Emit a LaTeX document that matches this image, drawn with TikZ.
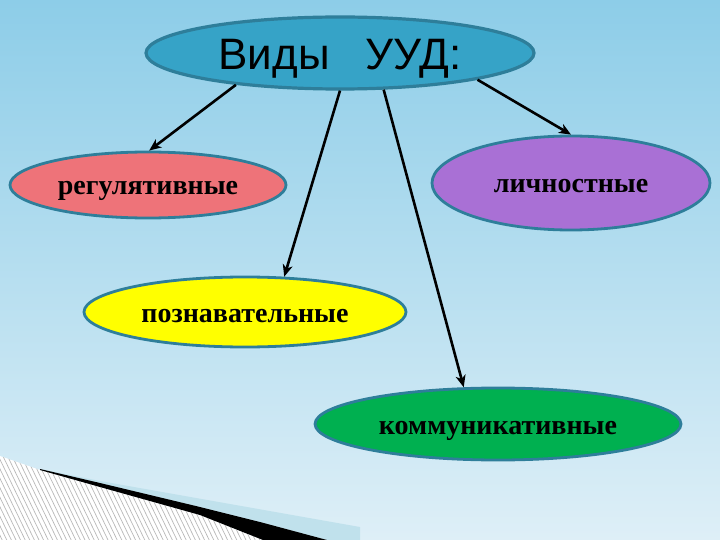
\documentclass[tikz,border=0pt]{standalone}
\usepackage{fontspec}
\setmainfont{Liberation Serif}
\newfontfamily\arialf{Liberation Sans}
\usetikzlibrary{shapes.geometric,arrows.meta}
\definecolor{bgtop}{RGB}{141,205,232}
\definecolor{bgbot}{RGB}{222,239,247}
\definecolor{band}{RGB}{192,225,236}
\definecolor{rim}{RGB}{46,126,154}
\definecolor{topfill}{RGB}{54,163,199}
\definecolor{redfill}{RGB}{238,115,121}
\definecolor{purplefill}{RGB}{169,112,213}
\definecolor{yellowfill}{RGB}{255,255,0}
\definecolor{greenfill}{RGB}{0,176,80}
\tikzset{
  oval/.style={ellipse, draw=rim, line width=2.8pt, inner sep=0pt,
    text height=20pt, text depth=0pt,
    font=\bfseries\fontsize{28}{32}\selectfont},
  arr/.style={draw=black, line width=2.6pt, -{Stealth[length=12pt,width=10pt,inset=3.5pt]}},
  hatch/.style={draw=gray!55, line width=0.7pt}
}
\begin{document}
\begin{tikzpicture}[x=1pt,y=-1pt]
\useasboundingbox (0,0) rectangle (720,540);
\shade[top color=bgtop, bottom color=bgbot] (0,0) rectangle (720,540);
% bottom-left swoosh
\fill[band] (40,469) -- (100,481) -- (360,527) -- (360,540) -- (327,540) -- (260,522)
  -- (200,507) -- (100,483) -- cycle;
\fill[white] (0,456) -- (40,470) -- (100,487) -- (200,515) -- (263,540) -- (0,540) -- cycle;
\begin{scope}
  \clip (0,456) -- (40,470) -- (100,487) -- (200,515) -- (263,540) -- (0,540) -- cycle;
  \foreach \i in {-12,...,62} {
    \draw[hatch] (\i*4.6,450) -- ++(46,95);
  }
\end{scope}
\fill[black] (40,469) -- (100,483) -- (200,507) -- (260,522) -- (327,540) -- (263,540)
  -- (200,515) -- (100,487) -- (40,470) -- cycle;
% nodes
\node[oval, fill=topfill, line width=3.2pt, minimum width=388pt, minimum height=72pt,
  text height=34pt, text depth=0pt,
  font=\arialf\fontsize{44}{50}\selectfont] (top) at (340,53) {Виды\hspace{36pt}УУД:};
\node[oval, fill=redfill, minimum width=276pt, minimum height=66pt] (reg) at (148,185) {регулятивные};
\node[oval, fill=purplefill, minimum width=278pt, minimum height=94pt] (lich) at (571,183) {личностные};
\node[oval, fill=yellowfill, minimum width=322pt, minimum height=70pt] (pozn) at (245,312) {познавательные};
\node[oval, fill=greenfill, minimum width=366pt, minimum height=72pt] (komm) at (498,424) {коммуникативные};
% connectors
\draw[arr] (top.197.5) -- (reg.88);
\draw[arr] (top.270) -- (pozn.42);
\draw[arr] (top.320) -- (komm.133);
\draw[arr] (top.349.7) -- (lich.90);
\end{tikzpicture}
\end{document}
